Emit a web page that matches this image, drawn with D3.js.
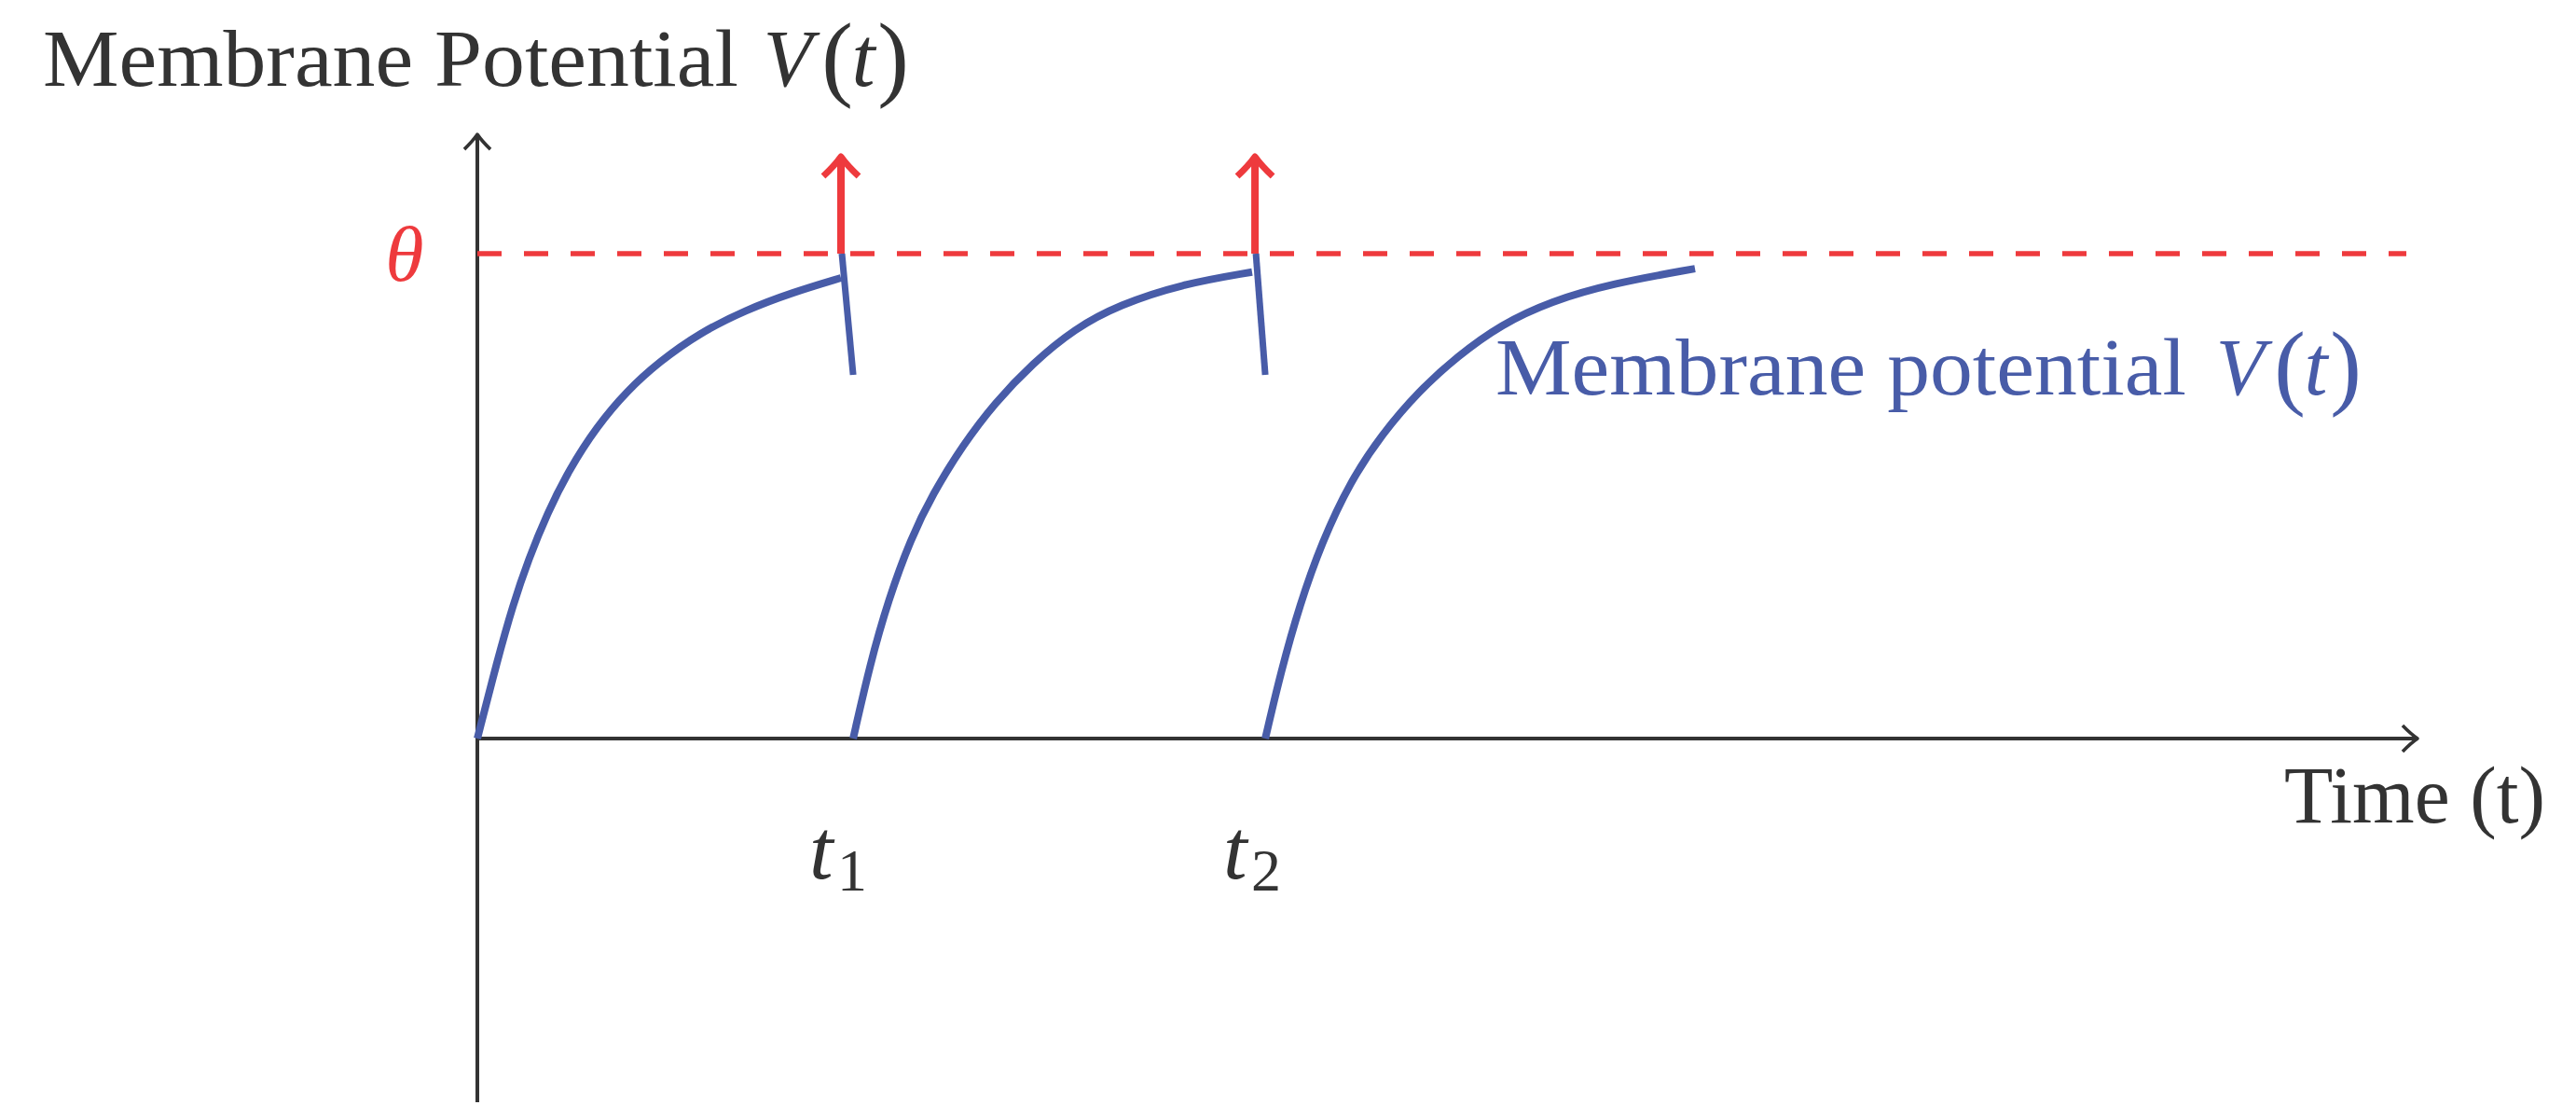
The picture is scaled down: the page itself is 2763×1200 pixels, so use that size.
<!DOCTYPE html>
<html>
<head>
<meta charset="utf-8">
<script src="https://cdn.jsdelivr.net/npm/d3@7"></script>
<style>
  body { margin: 0; background: #fff; }
  text { font-family: "Liberation Serif", "Times New Roman", serif; }
</style>
</head>
<body>
<div id="chart"></div>
<script>
// values: time in arbitrary units, potential relative to threshold (theta = 1)
var curve1 = [[0, 0], [1.01, 0.158], [1.83, 0.275], [2.64, 0.37], [3.61, 0.465], [4.71, 0.553],
  [6.15, 0.643], [7.74, 0.718], [9.38, 0.777], [11.44, 0.836], [13.85, 0.884], [16.25, 0.92], [18.75, 0.95]];
var curve2 = [[19.38, 0], [20.24, 0.152], [21.2, 0.287], [22.36, 0.413], [23.46, 0.503], [25.05, 0.606],
  [26.68, 0.692], [28.61, 0.773], [30.82, 0.846], [33.08, 0.894], [36.3, 0.937], [39.95, 0.962]];
var curve3 = [[40.63, 0], [41.44, 0.138], [42.4, 0.275], [43.56, 0.406], [45.0, 0.529], [46.63, 0.627],
  [48.56, 0.717], [50.53, 0.788], [52.79, 0.854], [55.38, 0.902], [58.46, 0.938], [62.79, 0.969]];

var spikeTimes = [18.75, 40.1];
var resetEnds = [[19.38, 0.75], [40.63, 0.75]];
var spikeLabels = ["1", "2"];
var theta = 1.0;
var spikeTop = 1.2;
var thresholdEnd = 99.47;

var xMax = 100, yMax = 1.244, yMin = -0.75;

var width = 2763, height = 1200;
var dark = "#333333", red = "#ee3a3d", blue = "#485ca8";

var svg = d3.select("#chart")
  .append("svg")
  .attr("width", width)
  .attr("height", height);

svg.append("rect").attr("width", width).attr("height", height).attr("fill", "#fff");

var x = d3.scaleLinear().domain([0, xMax]).range([512, 2592]);
var y = d3.scaleLinear().domain([0, theta]).range([792, 272]);

// arrow head in the tikz "to" style, tip at (px,py), pointing along dir
function arrowHead(px, py, dir, len, half) {
  if (dir == "up") {
    return "M" + (px - half) + "," + (py + len) + " Q" + (px - half * 0.35) + "," + (py + len * 0.45) + " " + px + "," + py +
      " Q" + (px + half * 0.35) + "," + (py + len * 0.45) + " " + (px + half) + "," + (py + len);
  }
  return "M" + (px - len) + "," + (py - half) + " Q" + (px - len * 0.45) + "," + (py - half * 0.35) + " " + px + "," + py +
    " Q" + (px - len * 0.45) + "," + (py + half * 0.35) + " " + (px - len) + "," + (py + half);
}

// axes
svg.append("line")
  .attr("x1", x(0)).attr("y1", y(0))
  .attr("x2", x(xMax)).attr("y2", y(0))
  .attr("stroke", dark).style("stroke-width", 4);
svg.append("path")
  .attr("d", arrowHead(x(xMax) + 1, y(0), "right", 16, 14))
  .attr("fill", "none").attr("stroke", dark).style("stroke-width", 3.6)
  .style("stroke-linejoin", "round");

svg.append("line")
  .attr("x1", x(0)).attr("y1", y(yMin))
  .attr("x2", x(0)).attr("y2", y(yMax))
  .attr("stroke", dark).style("stroke-width", 4);
svg.append("path")
  .attr("d", arrowHead(x(0), y(yMax) - 1, "up", 16, 14))
  .attr("fill", "none").attr("stroke", dark).style("stroke-width", 3.6)
  .style("stroke-linejoin", "round");

// threshold
svg.append("line")
  .attr("x1", x(0)).attr("y1", y(theta))
  .attr("x2", x(thresholdEnd)).attr("y2", y(theta))
  .attr("stroke", red)
  .style("stroke-width", 5.5)
  .style("stroke-dasharray", "26,24");

svg.append("text")
  .attr("x", 434).attr("y", 301)
  .style("text-anchor", "middle")
  .style("font-style", "italic")
  .style("font-size", "84px")
  .attr("fill", red)
  .text("θ");

// membrane potential traces
var line = d3.line()
  .x(function(d) { return x(d[0]); })
  .y(function(d) { return y(d[1]); })
  .curve(d3.curveBasis);

[curve1, curve2, curve3].forEach(function(c) {
  svg.append("path")
    .attr("d", line(c))
    .attr("fill", "none")
    .attr("stroke", blue)
    .style("stroke-width", 8);
});

// reset after each spike
spikeTimes.forEach(function(t, i) {
  svg.append("line")
    .attr("x1", x(t) + 1).attr("y1", y(theta))
    .attr("x2", x(resetEnds[i][0])).attr("y2", y(resetEnds[i][1]))
    .attr("stroke", blue)
    .style("stroke-width", 7);
});

// spikes
spikeTimes.forEach(function(t) {
  svg.append("line")
    .attr("x1", x(t)).attr("y1", y(theta))
    .attr("x2", x(t)).attr("y2", y(spikeTop) + 4)
    .attr("stroke", red)
    .style("stroke-width", 8);
  svg.append("path")
    .attr("d", arrowHead(x(t), y(spikeTop), "up", 21, 19))
    .attr("fill", "none")
    .attr("stroke", red)
    .style("stroke-width", 7)
    .style("stroke-linejoin", "round");
});

// spike time labels
spikeTimes.forEach(function(t, i) {
  var g = svg.append("g").attr("fill", dark);
  g.append("text")
    .attr("x", x(t) - 34).attr("y", 942)
    .style("font-style", "italic")
    .style("font-size", "92px")
    .text("t");
  g.append("text")
    .attr("x", x(t) - 4).attr("y", 955)
    .style("font-size", "64px")
    .text(spikeLabels[i]);
});

// text of the form "<words> V(t)"
function vtLabel(x0, y0, words, wordsLen, color) {
  var g = svg.append("g")
    .attr("transform", "translate(" + x0 + "," + y0 + ")")
    .attr("fill", color);
  g.append("text")
    .attr("x", 0).attr("y", 0)
    .attr("textLength", wordsLen)
    .attr("lengthAdjust", "spacingAndGlyphs")
    .style("font-size", "86px")
    .text(words);
  g.append("text")
    .attr("x", 799).attr("y", 0)
    .style("text-anchor", "middle")
    .style("font-style", "italic")
    .style("font-size", "86px")
    .text("V");
  g.append("text")
    .attr("x", 852).attr("y", 3)
    .style("text-anchor", "middle")
    .style("font-size", "101px")
    .text("(");
  g.append("text")
    .attr("x", 880).attr("y", 0)
    .style("text-anchor", "middle")
    .style("font-style", "italic")
    .style("font-size", "90px")
    .text("t");
  g.append("text")
    .attr("x", 912).attr("y", 3)
    .style("text-anchor", "middle")
    .style("font-size", "101px")
    .text(")");
}

vtLabel(46, 92, "Membrane Potential", 746, dark);
vtLabel(1604, 423, "Membrane potential", 741, blue);

svg.append("text")
  .attr("x", 2450).attr("y", 882)
  .attr("textLength", 280)
  .attr("lengthAdjust", "spacingAndGlyphs")
  .style("font-size", "86px")
  .attr("fill", dark)
  .text("Time (t)");
</script>
</body>
</html>
